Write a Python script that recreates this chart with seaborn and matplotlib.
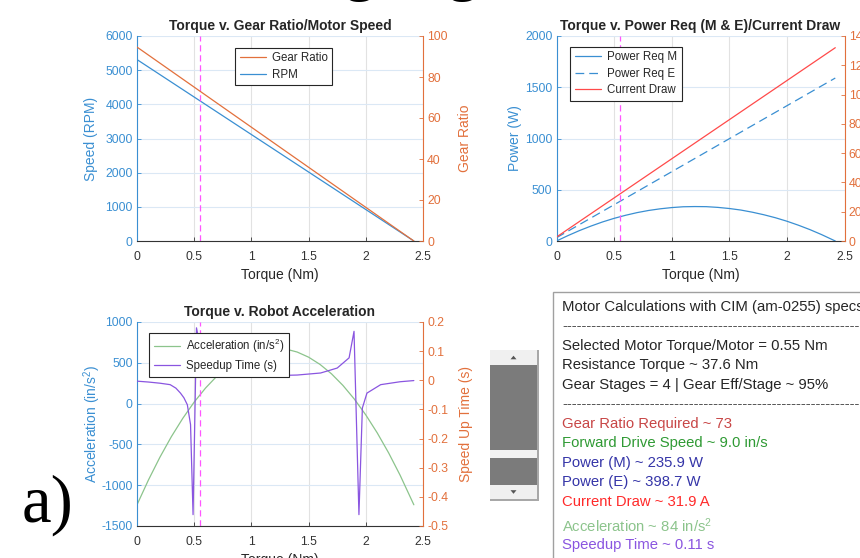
import numpy as np
import pandas as pd
import seaborn as sns
import matplotlib.pyplot as plt
from matplotlib.patches import Rectangle, Polygon
from matplotlib.ticker import FuncFormatter

# values
selected_torque = 0.55

torque_lin = [0, 2.42]
rpm = [5310, 0]
gear_ratio = [94.6, 0]
power_e = [32, 1590]
current_draw = [2.7, 132]

torque_curve = [0, 0.1, 0.2, 0.3, 0.4, 0.5, 0.6, 0.7, 0.8, 0.9, 1.0, 1.1, 1.2,
                1.3, 1.4, 1.5, 1.6, 1.7, 1.8, 1.9, 2.0, 2.1, 2.2, 2.3, 2.42]
power_m = [0, 53, 102, 146, 186, 221, 251, 277, 298, 314, 326, 334, 336,
           335, 328, 317, 302, 281, 256, 227, 193, 154, 111, 63, 0]
acceleration = [-1240, -936, -658, -406, -181, 19, 192, 339, 459, 554, 622, 664, 680,
                669, 632, 569, 480, 365, 223, 55, -139, -359, -605, -878, -1240]

torque_spd = [0, 0.1, 0.2, 0.29, 0.34, 0.38, 0.41, 0.44, 0.468, 0.49, 0.52, 0.585, 0.73,
              0.94, 1.2, 1.4, 1.605, 1.75, 1.854, 1.897, 1.94, 1.97, 2.01, 2.13, 2.3, 2.42]
speedup_time = [-0.003, -0.006, -0.01, -0.015, -0.027, -0.044, -0.06, -0.084, -0.152,
                -0.461, 0.18, 0.049, 0.031, 0.017, 0.016, 0.018, 0.025, 0.042, 0.077,
                0.168, -0.461, -0.095, -0.044, -0.015, -0.005, -0.001]

panel_lines = [
    'Motor Calculations with CIM (am-0255) specs',
    '-' * 90,
    'Selected Motor Torque/Motor = 0.55 Nm',
    'Resistance Torque ~ 37.6 Nm',
    'Gear Stages = 4 | Gear Eff/Stage ~ 95%',
    '-' * 90,
    'Gear Ratio Required ~ 73',
    'Forward Drive Speed ~ 9.0 in/s',
    'Power (M) ~ 235.9 W',
    'Power (E) ~ 398.7 W',
    'Current Draw ~ 31.9 A',
    'Acceleration ~ 84 in/s$^2$',
    'Speedup Time ~ 0.11 s',
]
panel_colors = ['#262626', '#555555', '#262626', '#262626', '#262626', '#555555',
                '#c84646', '#2f9a34', '#3535a8', '#3535a8', '#ff2a2a', '#8cc48c', '#8a55e0']

# style
sns.set_theme(style='white')
plt.rcParams['font.family'] = ['Liberation Sans', 'DejaVu Sans']
plt.rcParams['axes.unicode_minus'] = False
plt.rcParams['mathtext.default'] = 'regular'

W, H = 860, 558
BLUE = '#3a8fd2'
ORANGE = '#e2703c'
DARK = '#333333'
MAGENTA = '#ff55ff'
fmt = FuncFormatter(lambda v, p: f'{round(v, 6) + 0.0:g}')


def px(x, y, w, h):
    # pixel box (from top-left) -> figure fraction rect
    return [x / W, 1 - (y + h) / H, w / W, h / H]


def style_pair(ax, axr, yticks, rticks):
    ax.set_xlim(0, 2.5)
    ax.set_xticks([0, 0.5, 1, 1.5, 2, 2.5])
    ax.set_ylim(yticks[0], yticks[-1])
    ax.set_yticks(yticks)
    axr.set_ylim(rticks[0], rticks[-1])
    axr.set_yticks(rticks)
    for a in (ax, axr):
        a.xaxis.set_major_formatter(fmt)
        a.yaxis.set_major_formatter(fmt)
        for s in a.spines.values():
            s.set_visible(False)
    ax.spines['left'].set_visible(True)
    ax.spines['left'].set_color(BLUE)
    ax.spines['bottom'].set_visible(True)
    ax.spines['bottom'].set_color(DARK)
    axr.spines['right'].set_visible(True)
    axr.spines['right'].set_color(ORANGE)
    for s in list(ax.spines.values()) + list(axr.spines.values()):
        s.set_linewidth(0.8)
    ax.tick_params(axis='x', direction='in', length=3, width=0.6, colors=DARK,
                   labelsize=8.8, pad=7, bottom=True)
    ax.tick_params(axis='y', direction='in', length=3, width=0.6, colors=BLUE,
                   labelsize=8.8, pad=3, left=True)
    axr.tick_params(axis='y', direction='in', length=3, width=0.6, colors=ORANGE,
                    labelsize=8.8, pad=3, right=True)
    ax.grid(axis='y', color='#dbe8f5', lw=0.8)
    ax.grid(axis='x', color='#e2e2e2', lw=0.8)
    ax.set_axisbelow(True)
    ax.set_xlabel('Torque (Nm)', fontsize=10, color='#262626', labelpad=3.5)
    ax.axvline(selected_torque, color=MAGENTA, lw=0.9, dashes=(5, 3))


fig = plt.figure(figsize=(W / 100, H / 100), dpi=100)

# plot 1
ax1 = fig.add_axes(px(137, 36, 286, 205))
ax1r = ax1.twinx()
sns.lineplot(x=torque_lin, y=rpm, ax=ax1, color=BLUE, lw=0.9, label='RPM', legend=False)
sns.lineplot(x=torque_lin, y=gear_ratio, ax=ax1r, color=ORANGE, lw=0.9,
             label='Gear Ratio', legend=False)
style_pair(ax1, ax1r, [0, 1000, 2000, 3000, 4000, 5000, 6000], [0, 20, 40, 60, 80, 100])
ax1.set_ylabel('Speed (RPM)', fontsize=10, color=BLUE, labelpad=5.4)
ax1r.set_ylabel('Gear Ratio', fontsize=10, color=ORANGE, labelpad=7.6)
ax1.set_title('Torque v. Gear Ratio/Motor Speed', fontsize=10, fontweight='bold', pad=4)
h = [ax1r.lines[0], ax1.lines[0]]

# plot 2
ax2 = fig.add_axes(px(556.5, 36, 288, 205))
ax2r = ax2.twinx()
sns.lineplot(x=torque_curve, y=power_m, ax=ax2, color=BLUE, lw=0.9,
             label='Power Req M', legend=False)
sns.lineplot(x=torque_lin, y=power_e, ax=ax2, color=BLUE, lw=0.9,
             label='Power Req E', legend=False)
ax2.lines[-1].set_dashes((7, 4))
sns.lineplot(x=torque_lin, y=current_draw, ax=ax2r, color='#ff4a4a', lw=0.9,
             label='Current Draw', legend=False)
style_pair(ax2, ax2r, [0, 500, 1000, 1500, 2000], [0, 20, 40, 60, 80, 100, 120, 140])
ax2.set_ylabel('Power (W)', fontsize=10, color=BLUE, labelpad=2)
ax2.set_title('Torque v. Power Req (M & E)/Current Draw', fontsize=10,
              fontweight='bold', pad=4)
h2 = [ax2.lines[0], ax2.lines[1], ax2r.lines[0]]

# plot 3
ax3 = fig.add_axes(px(137, 322, 286, 204))
ax3r = ax3.twinx()
sns.lineplot(x=torque_curve, y=acceleration, ax=ax3, color='#8cc48c', lw=0.9,
             label='Acceleration (in/s$^2$)', legend=False)
sns.lineplot(x=torque_spd, y=speedup_time, ax=ax3r, color='#8a55e0', lw=0.9,
             label='Speedup Time (s)', legend=False)
style_pair(ax3, ax3r, [-1500, -1000, -500, 0, 500, 1000],
           [-0.5, -0.4, -0.3, -0.2, -0.1, 0, 0.1, 0.2])
ax3.set_ylabel('Acceleration (in/s$^2$)', fontsize=10, color=BLUE, labelpad=-1)
ax3r.set_ylabel('Speed Up Time (s)', fontsize=10, color=ORANGE, labelpad=7.6)
ax3.set_title('Torque v. Robot Acceleration', fontsize=10, fontweight='bold', pad=4)
h3 = [ax3.lines[0], ax3r.lines[0]]

leg_kw = dict(loc='upper left', bbox_transform=fig.transFigure, borderaxespad=0,
              fancybox=False, framealpha=1, edgecolor='#262626', fontsize=8.3,
              handlelength=2.3, handletextpad=0.5, borderpad=0.4, labelspacing=0.4)
for axr, hs, (lx, ly) in [(ax1r, h, (235, 47.5)), (ax2r, h2, (570, 46.5)),
                          (ax3r, h3, (149, 332.5))]:
    lg = axr.legend(hs, [l.get_label() for l in hs],
                    bbox_to_anchor=(lx / W, 1 - ly / H), **leg_kw)
    lg.get_frame().set_linewidth(0.8)
    for t in lg.get_texts():
        t.set_color('#262626')

# text panel
fig.patches.append(Rectangle((553 / W, -0.01), 0.4, 1 - 292 / H + 0.01,
                             transform=fig.transFigure, fc='white', ec='#a0a0a0', lw=1))
for i, (line, col) in enumerate(zip(panel_lines, panel_colors)):
    y = 306.7 + 19.5 * i + (4 if i >= 11 else 0)
    fig.text(562 / W, 1 - y / H, line, color=col, fontsize=10.7, va='center',
             clip_on=False)

# scrollbar widget
sb_x, sb_w = 490, 47
for y0, hh, c in [(350, 15, '#f0f0f0'), (365, 85, '#7b7b7b'), (450, 8, '#f2f2f2'),
                  (458, 27, '#7b7b7b'), (485, 14, '#f0f0f0')]:
    fig.patches.append(Rectangle(px(sb_x, y0, sb_w, hh)[:2], sb_w / W, hh / H,
                                 transform=fig.transFigure, fc=c, ec='none'))
fig.patches.append(Rectangle(px(sb_x + sb_w, 350, 1.5, 150)[:2], 1.5 / W, 150 / H,
                             transform=fig.transFigure, fc='#a8a8a8', ec='none'))
fig.patches.append(Rectangle(px(sb_x, 499, sb_w + 1.5, 1.5)[:2], (sb_w + 1.5) / W, 1.5 / H,
                             transform=fig.transFigure, fc='#a8a8a8', ec='none'))
cx = sb_x + sb_w / 2
for ty, d in [(357.5, -1), (492, 1)]:
    pts = [((cx - 3) / W, 1 - (ty - 1.8 * d) / H), ((cx + 3) / W, 1 - (ty - 1.8 * d) / H),
           (cx / W, 1 - (ty + 1.8 * d) / H)]
    fig.patches.append(Polygon(pts, closed=True, transform=fig.transFigure,
                               fc='#555555', ec='none'))

# big label and cut-off heading glyphs
fig.text(22 / W, 1 - 521.5 / H, 'a)', fontsize=48, family='Liberation Serif',
         color='black', va='baseline')
for gx in (359, 462):
    fig.text(gx / W, 1 + 11.5 / H, 'g', fontsize=46, family='Liberation Serif',
             color='black', ha='center', va='baseline')

fig.savefig('out.png', dpi=100)
